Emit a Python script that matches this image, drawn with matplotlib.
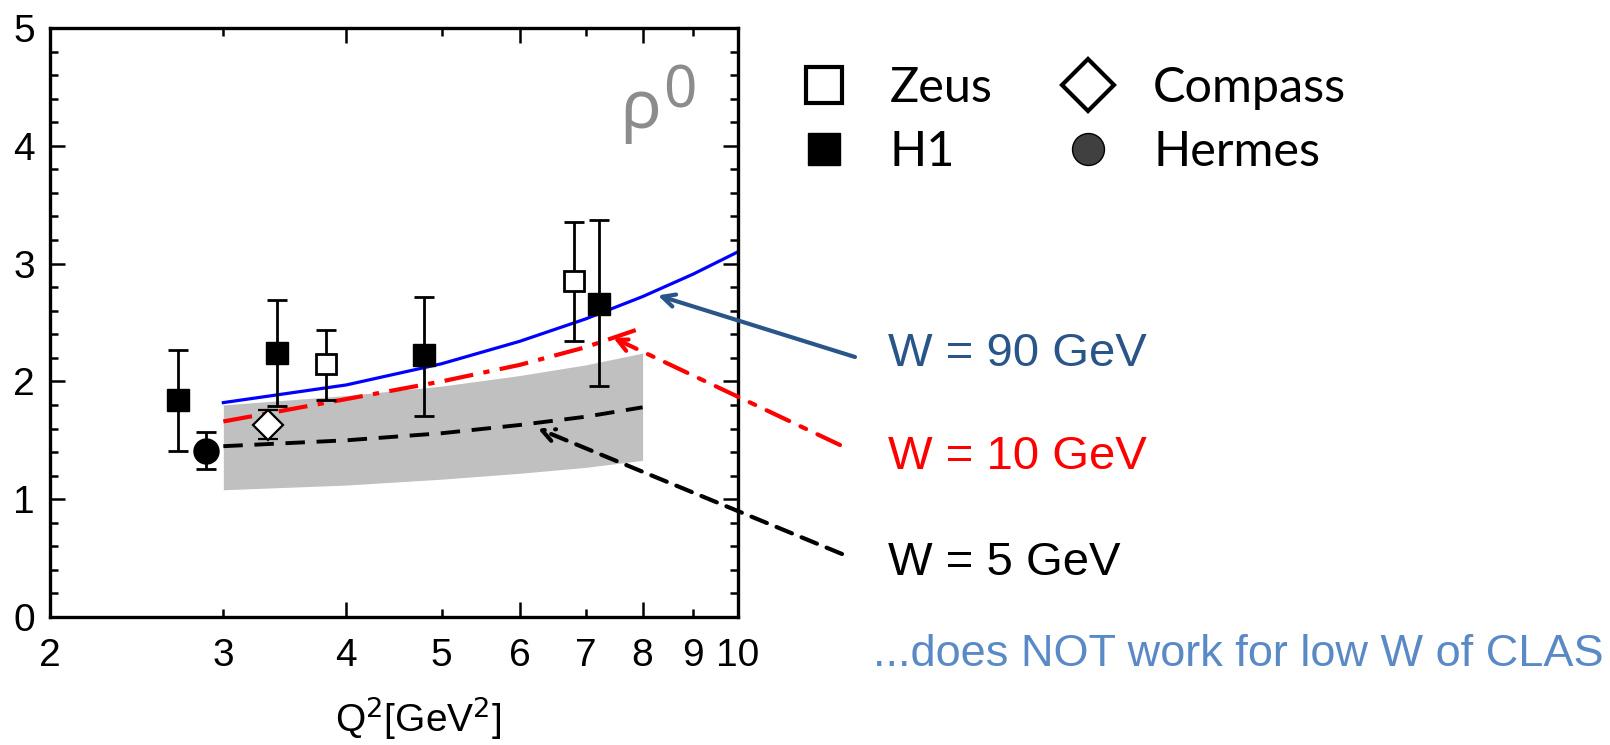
import matplotlib
matplotlib.use("Agg")
import matplotlib.pyplot as plt
from matplotlib.ticker import FixedLocator, FuncFormatter, AutoMinorLocator
from matplotlib.lines import Line2D

plt.rcParams['font.family'] = ['Liberation Sans', 'DejaVu Sans']

# data
h1_x = [2.70, 3.40, 4.80, 7.22]
h1_y = [1.84, 2.24, 2.22, 2.66]
h1_lo = [1.41, 1.79, 1.71, 1.96]
h1_hi = [2.27, 2.69, 2.72, 3.37]

zeus_x = [3.81, 6.81]
zeus_y = [2.15, 2.85]
zeus_lo = [1.84, 2.34]
zeus_hi = [2.44, 3.35]

compass_x = [3.33]
compass_y = [1.63]
compass_lo = [1.51]
compass_hi = [1.76]

hermes_x = [2.88]
hermes_y = [1.41]
hermes_lo = [1.26]
hermes_hi = [1.57]

w90_x = [3, 4, 5, 6, 7, 8, 9, 10]
w90_y = [1.82, 1.97, 2.15, 2.34, 2.53, 2.72, 2.91, 3.10]

w10_x = [3, 4, 5, 6, 7, 7.9]
w10_y = [1.66, 1.85, 2.00, 2.14, 2.29, 2.44]

w5_x = [3, 4, 5, 6, 7, 8]
w5_y = [1.45, 1.50, 1.56, 1.63, 1.70, 1.78]

band_x = [3, 4, 5, 6, 7, 8]
band_lo = [1.08, 1.12, 1.17, 1.22, 1.27, 1.33]
band_hi = [1.80, 1.88, 1.96, 2.05, 2.14, 2.24]

W, H = 1610, 745
fig = plt.figure(figsize=(W / 100, H / 100), dpi=100)
ax = fig.add_axes([50 / W, (H - 617) / H, (738 - 50) / W, (617 - 28) / H])

ax.fill_between(band_x, band_lo, band_hi, color='#c0c0c0', lw=0, zorder=1)
ax.plot(w90_x, w90_y, color='#0000ff', lw=2.3, zorder=2)
ax.plot(w10_x, w10_y, color='#ff0000', lw=3, dashes=(7, 2.5, 1.5, 2.5), zorder=2)
ax.plot(w5_x, w5_y, color='black', lw=2.8, dashes=(5, 3), zorder=2)

def yerr(y, lo, hi):
    return [[a - b for a, b in zip(y, lo)], [b - a for a, b in zip(y, hi)]]

eb = dict(ecolor='black', elinewidth=2.0, capsize=7, capthick=2.0, ls='none', zorder=3)
ax.errorbar(h1_x, h1_y, yerr=yerr(h1_y, h1_lo, h1_hi), fmt='s', ms=16.5,
            mfc='black', mec='black', **eb)
ax.errorbar(zeus_x, zeus_y, yerr=yerr(zeus_y, zeus_lo, zeus_hi), fmt='s', ms=15,
            mfc='white', mec='black', mew=2.0, **eb)
ax.errorbar(compass_x, compass_y, yerr=yerr(compass_y, compass_lo, compass_hi), fmt='D',
            ms=15, mfc='white', mec='black', mew=1.6, **eb)
ax.errorbar(hermes_x, hermes_y, yerr=yerr(hermes_y, hermes_lo, hermes_hi), fmt='o',
            ms=18, mfc='black', mec='black', **eb)

ax.set_xscale('log')
ax.set_xlim(2, 10)
ax.set_ylim(0, 5)
ax.xaxis.set_major_locator(FixedLocator([2, 4, 6, 8, 10]))
ax.xaxis.set_minor_locator(FixedLocator([3, 5, 7, 9]))
fmt = FuncFormatter(lambda v, p: f'{v:g}')
ax.xaxis.set_major_formatter(fmt)
ax.xaxis.set_minor_formatter(fmt)
ax.set_yticks([0, 1, 2, 3, 4, 5])
ax.yaxis.set_minor_locator(AutoMinorLocator(5))
ax.tick_params(which='both', direction='in', top=True, right=True, width=1.8, labelsize=28)
ax.tick_params(which='major', length=11)
ax.tick_params(which='minor', length=6)
ax.tick_params(axis='x', which='both', pad=15)
ax.tick_params(axis='y', which='both', pad=11)
for s in ax.spines.values():
    s.set_linewidth(2.4)

fig.text(418 / W, 1 - 718 / H, r'Q$^2$[GeV$^2$]', fontsize=28, ha='center', va='center')

# rho^0 label
fig.text(620 / W, 1 - 128 / H, '\u03c1', family=['Noto Sans', 'DejaVu Sans'], fontsize=49,
         color='#8c8c8c', ha='left', va='baseline')
fig.text(663 / W, 1 - 107 / H, '0', family=['Noto Sans'], fontsize=42,
         color='#8c8c8c', ha='left', va='baseline')

# legend
handles = [
    Line2D([], [], ls='none', marker='s', ms=26, mfc='white', mec='black', mew=3),
    Line2D([], [], ls='none', marker='s', ms=23, mfc='black', mec='black'),
    Line2D([], [], ls='none', marker='D', ms=26, mfc='white', mec='black', mew=3),
    Line2D([], [], ls='none', marker='o', ms=23, mfc='#404040', mec='black', mew=1),
]
labels = ['Zeus', 'H1', 'Compass', 'Hermes']
fig.legend(handles, labels, loc='upper left', bbox_to_anchor=(800 / W, 1 - 66 / H),
           ncol=2, frameon=False, prop={'family': 'Lato', 'size': 35},
           handlelength=1.0, handletextpad=0.85, columnspacing=1.45, labelspacing=0.42,
           borderpad=0, borderaxespad=0)

# model labels with arrows
ax.annotate('', xy=(8.29, 2.73), xycoords='data', xytext=(855 / W, 1 - 357 / H),
            textcoords='figure fraction', annotation_clip=False,
            arrowprops=dict(arrowstyle='->,head_length=0.9,head_width=0.45', lw=3,
                            color='#2a5588', shrinkA=0, shrinkB=0))
ax.annotate('', xy=(7.47, 2.37), xycoords='data', xytext=(840 / W, 1 - 445 / H),
            textcoords='figure fraction', annotation_clip=False,
            arrowprops=dict(arrowstyle='->,head_length=0.9,head_width=0.45', lw=3,
                            color='#ff0000', ls=(0, (6, 3, 1.5, 3)), shrinkA=0, shrinkB=0))
ax.annotate('', xy=(6.26, 1.60), xycoords='data', xytext=(842 / W, 1 - 554 / H),
            textcoords='figure fraction', annotation_clip=False,
            arrowprops=dict(arrowstyle='->,head_length=0.9,head_width=0.45', lw=3,
                            color='black', ls=(0, (4, 2.5)), shrinkA=0, shrinkB=0))

fig.text(888 / W, 1 - 354 / H, 'W = 90 GeV', fontsize=34, color='#2a5588', va='center')
fig.text(888 / W, 1 - 457 / H, 'W = 10 GeV', fontsize=34, color='#ff0000', va='center')
fig.text(888 / W, 1 - 563 / H, 'W = 5 GeV', fontsize=34, color='black', va='center')
fig.text(873 / W, 1 - 654 / H, '...does NOT work for low W of CLAS', fontsize=32.5,
         color='#5a8ac6', va='center')

fig.savefig('out.png', dpi=100)
